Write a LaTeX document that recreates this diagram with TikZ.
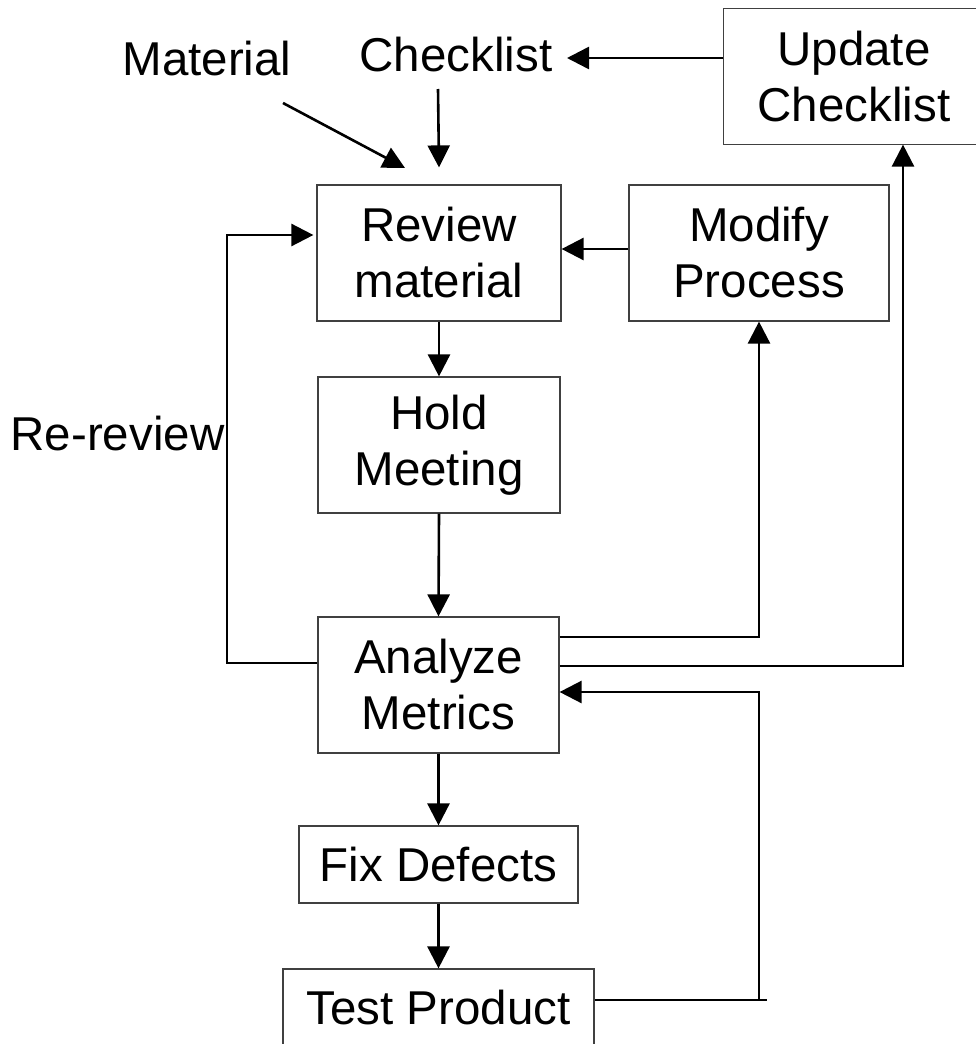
\documentclass[tikz,border=0pt]{standalone}
\usepackage{fontspec}
\setmainfont{Liberation Sans}
\usetikzlibrary{arrows.meta,calc}
\begin{document}
\begin{tikzpicture}[x=1pt,y=-1pt,
  boxline/.style={draw=black!75,line width=1.2pt},
  box/.style={boxline,inner sep=0pt,align=center,
    font=\fontsize{47.5}{56}\selectfont},
  lbl/.style={inner sep=0pt,anchor=base,font=\fontsize{47.5}{56}\selectfont},
  arr/.style={line width=2.6pt,-{Triangle[width=22pt,length=22pt]}},
  ln/.style={line width=2.6pt}]
\useasboundingbox (0,0) rectangle (975,1044);
% boxes
\node[box,draw=none,minimum width=260pt,minimum height=135pt] (upd) at (854,76.5) {Update\\Checklist};
\draw[boxline] (upd.south west) rectangle ([xshift=40pt]upd.north east);
\node[box,minimum width=244pt,minimum height=136pt] (rev) at (439,253) {Review\\material};
\node[box,minimum width=260pt,minimum height=136pt] (mod) at (759,253) {Modify\\Process};
\node[box,minimum width=242pt,minimum height=136pt] (hold) at (439,445) {Hold\\Meeting};
\node[box,minimum width=241pt,minimum height=136pt] (ana) at (438.5,685) {Analyze\\Metrics};
\node[box,minimum width=279pt,minimum height=77pt] (fix) at (438.5,864.5) {Fix Defects};
\node[box,minimum width=311pt,minimum height=77pt] (test) at (438.5,1007.5) {Test Product};
% labels
\node[lbl] (material) at (207,75) {Material};
\node[lbl] (checklist) at (456,71) {Checklist};
\node[lbl] (rerev) at (117.5,450) {Re-review};
% helper coordinates
\coordinate (matstart) at (283,103);
\coordinate (mattip) at (405,168);
\coordinate (chkstart) at (438,89);
\coordinate (fb) at (759,1000);
\coordinate (fbend) at (767,1000);
\coordinate (updx) at (903,0);
\coordinate (rrx) at (227,0);
% connectors
\draw[arr] (upd.west |- 0,58) -- (567,58);
\draw[arr] (chkstart) -- ([yshift=17pt]rev.north);
\draw[arr] (matstart) -- (mattip);
\draw[arr] ([yshift=4pt]mod.west) -- ([yshift=4pt]rev.east);
\draw[arr] (rev.south) -- (hold.north);
\draw[arr] (hold.south) -- (ana.north);
\draw[arr] (ana.east |- 0,637) -| (mod.south);
\draw[arr] (ana.east |- 0,666) -| (updx |- upd.south);
\draw[ln] (test.east |- fb) -- (fbend);
\draw[arr] (fb) |- (ana.east |- 0,692);
\draw[arr] (ana.west |- 0,663) -| (rrx |- 0,235) -- ([xshift=-3pt]rev.west |- 0,235);
\draw[arr] (ana.south) -- (fix.north);
\draw[arr] (fix.south) -- (test.north);
\end{tikzpicture}
\end{document}
